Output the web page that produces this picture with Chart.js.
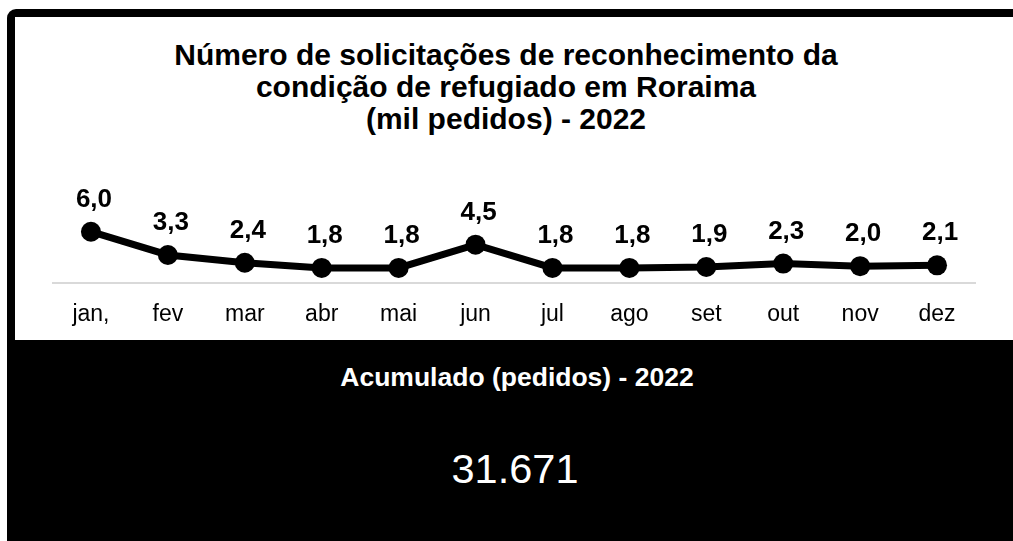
<!DOCTYPE html>
<html>
<head>
<meta charset="utf-8">
<script src="https://cdn.jsdelivr.net/npm/chart.js@4/dist/chart.umd.min.js"></script>
<style>
  html, body { margin: 0; padding: 0; background: #fff; overflow: hidden; }
  body { width: 1013px; height: 541px; position: relative; font-family: 'Liberation Sans', Arial, sans-serif; }
  #frame { position: absolute; left: 7px; top: 9px; width: 1020px; height: 600px; background: #000; border-top-left-radius: 9px; }
  #panel { position: absolute; left: 15px; top: 17px; width: 1010px; height: 323px; background: #fff; }
  #title { position: absolute; left: 15px; top: 39px; width: 982px; text-align: center; font-weight: bold; font-size: 30px; line-height: 32px; color: #000; }
  #wrap { position: absolute; left: 15px; top: 17px; width: 998px; height: 340px; }
  #sub { position: absolute; left: 25px; top: 362px; width: 984px; text-align: center; color: #fff; font-weight: bold; font-size: 26.5px; line-height: 30px; }
  #total { position: absolute; left: 15px; top: 444px; width: 1000px; text-align: center; color: #fff; font-size: 41.5px; line-height: 50px; }
</style>
</head>
<body>
<div id="frame"></div>
<div id="panel"></div>
<div id="title">Número de solicitações de reconhecimento da<br>condição de refugiado em Roraima<br>(mil pedidos) - 2022</div>
<div id="wrap"><canvas id="chart"></canvas></div>
<div id="sub">Acumulado (pedidos) - 2022</div>
<div id="total">31.671</div>
<script>
const months = ['jan,', 'fev', 'mar', 'abr', 'mai', 'jun', 'jul', 'ago', 'set', 'out', 'nov', 'dez'];
const requests = [6.0, 3.3, 2.4, 1.8, 1.8, 4.5, 1.8, 1.8, 1.9, 2.3, 2.0, 2.1];

const fontFamily = "'Liberation Sans', Arial, sans-serif";

// value labels above each point, Excel style "6,0"
const pointLabels = {
    id: 'pointLabels',
    afterDatasetsDraw(chart) {
        const ctx = chart.ctx;
        const meta = chart.getDatasetMeta(0);
        ctx.save();
        ctx.font = 'bold 26px ' + fontFamily;
        ctx.fillStyle = '#000';
        ctx.textAlign = 'center';
        ctx.textBaseline = 'middle';
        meta.data.forEach((pt, i) => {
            const txt = requests[i].toFixed(1).replace('.', ',');
            ctx.fillText(txt, pt.x + 3, pt.y - 32);
        });
        ctx.restore();
    }
};

const ctx = document.getElementById('chart').getContext('2d');
const chart = new Chart(ctx, {
    type: 'line',
    data: {
        labels: months,
        datasets: [{
            data: requests,
            borderColor: '#000',
            backgroundColor: '#000',
            borderWidth: 7,
            pointRadius: 10,
            pointBackgroundColor: '#000',
            pointBorderWidth: 0,
            tension: 0
        }]
    },
    options: {
        responsive: true,
        maintainAspectRatio: false,
        animation: false,
        layout: { padding: { top: 163, bottom: 12, left: 37.5, right: 37.5 } },
        plugins: {
            legend: { display: false },
            tooltip: { enabled: false },
            title: { display: false }
        },
        scales: {
            x: {
                offset: true,
                grid: { drawOnChartArea: false, drawTicks: false },
                border: { display: true, color: '#d9d9d9', width: 2 },
                ticks: {
                    padding: 17,
                    color: '#000',
                    font: { family: fontFamily, size: 23 }
                }
            },
            y: {
                display: false,
                min: 0,
                max: 12
            }
        }
    },
    plugins: [pointLabels]
});
</script>
</body>
</html>
